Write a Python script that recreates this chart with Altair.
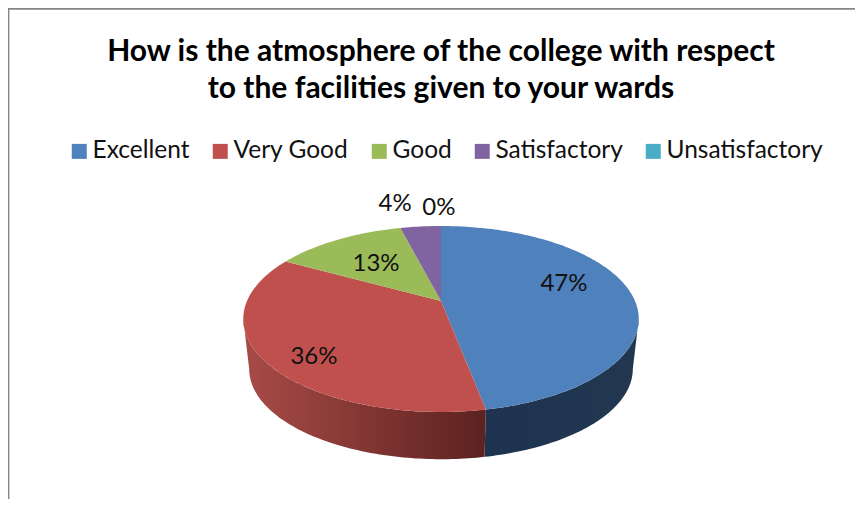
import math
import altair as alt
import pandas as pd

categories = ["Excellent", "Very Good", "Good", "Satisfactory", "Unsatisfactory"]
values = [47, 36, 13, 4, 0]
colors = ["#4F81BD", "#C0504D", "#9BBB59", "#8064A2", "#4BACC6"]
title_lines = ["How is the atmosphere of the college with respect",
               "to the facilities given to your wards"]
# label placement: radial fraction and angle nudge (degrees) for each slice
label_radius = [0.692, 0.803, 0.589, 1.42, 1.318]
label_nudge = [-12.2, -7.2, -0.5, -5.0, -0.6]

# page-pixel pie projection (a tilted circle seen in perspective)
CX, APEX_Y, R = 441.0, 301.0, 194.0
A, C = 31.26, -0.1935
ELL_Y, BOT_Y, BOT_S = 319.0, 369.0, 0.97


def project(deg, r=1.0):
    t = math.radians(deg)
    u, v = r * math.sin(t), -r * math.cos(t)
    d = 1 + C * v
    return CX + R * u / d, (A * v + APEX_Y) / d


def lower(p):
    return CX + BOT_S * (p[0] - CX), BOT_Y + BOT_S * (p[1] - ELL_Y)


def arc(a0, a1, step=1.0):
    n = max(2, int(abs(a1 - a0) / step) + 1)
    return [a0 + (a1 - a0) * i / (n - 1) for i in range(n)]


xs = alt.X("x:Q", scale=alt.Scale(domain=[8, 855]), axis=None)
ys = alt.Y("y:Q", scale=alt.Scale(domain=[499, 8]), axis=None)


def polygon(points, fill):
    df = pd.DataFrame([{"x": p[0], "y": p[1], "i": i} for i, p in enumerate(points)])
    return alt.Chart(df).mark_line(
        fill=fill, strokeWidth=0, interpolate="linear-closed"
    ).encode(x=xs, y=ys, order="i:Q")


total = sum(values)
edges = [0.0]
for v in values:
    edges.append(edges[-1] + 360.0 * v / total)

layers = []

# side wall, visible from the right extreme to the left extreme of the ellipse
LEFT_T, RIGHT_T = 258.8, 101.2
side_fills = {
    0: alt.Gradient(gradient="linear", x1=0, x2=1, y1=0, y2=0,
                    stops=[alt.GradientStop(color="#1E3350", offset=0),
                           alt.GradientStop(color="#22374F", offset=1)]),
    1: alt.Gradient(gradient="linear", x1=0, x2=1, y1=0, y2=0,
                    stops=[alt.GradientStop(color="#A84B47", offset=0),
                           alt.GradientStop(color="#5C2220", offset=1)]),
}
for idx, (a0, a1) in {0: (RIGHT_T, edges[1]), 1: (edges[1], LEFT_T)}.items():
    top = [project(a) for a in arc(a0, a1)]
    bottom = [lower(p) for p in top]
    layers.append(polygon(top + bottom[::-1], side_fills[idx]))

# top surface
for i, col in enumerate(colors):
    if values[i] > 0:
        pts = [project(0, 0)] + [project(a) for a in arc(edges[i], edges[i + 1])]
        layers.append(polygon(pts, col))

# legend carrier
legend_df = pd.DataFrame({"category": categories, "x": [100] * 5, "y": [100] * 5})
layers.append(
    alt.Chart(legend_df).mark_square(size=0).encode(
        x=xs, y=ys,
        color=alt.Color(
            "category:N",
            scale=alt.Scale(domain=categories, range=colors),
            sort=categories,
            legend=alt.Legend(
                title=None, orient="none", legendX=59, legendY=131,
                direction="horizontal", columns=5, symbolType="square",
                symbolSize=225, symbolOpacity=1, symbolStrokeWidth=0,
                labelFont="Lato", labelFontSize=24.5, labelColor="#111111",
                labelOffset=1, columnPadding=18, labelLimit=300, padding=0,
            ),
        ),
    )
)

# percentage labels
rows = []
for i, v in enumerate(values):
    mid = (edges[i] + edges[i + 1]) / 2 + label_nudge[i]
    px, py = project(mid, label_radius[i])
    rows.append({"x": px, "y": py + 1, "label": f"{v}%"})
layers.append(
    alt.Chart(pd.DataFrame(rows)).mark_text(
        font="Lato", fontSize=24, color="#111111", align="center", baseline="middle"
    ).encode(x=xs, y=ys, text="label:N")
)

# chart frame: top and left edges
frame = pd.DataFrame({"x": [8.5, 8.5, 855], "y": [499, 8.8, 8.8], "i": [0, 1, 2]})
layers.append(
    alt.Chart(frame).mark_line(color="#868686", strokeWidth=1.8).encode(x=xs, y=ys, order="i:Q")
)

chart = alt.layer(*layers).properties(
    width=847, height=491, padding=0, autosize=alt.AutoSizeParams(type="none"),
    title=alt.TitleParams(
        text=title_lines, font="Lato", fontSize=30, fontWeight="bold", color="#000000",
        anchor="middle", frame="group", baseline="alphabetic", dx=9.5, offset=-123,
        lineHeight=37,
    ),
).configure_view(stroke=None)

chart.save("out.html", embed_options={"renderer": "svg", "actions": False})
